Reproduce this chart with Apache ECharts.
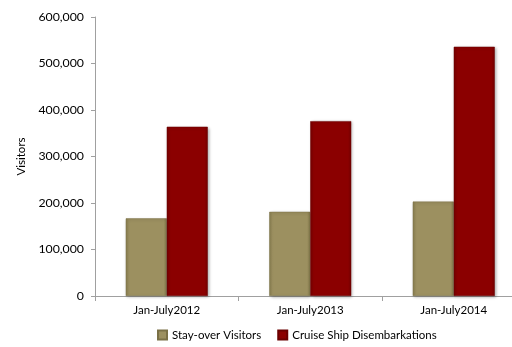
<!DOCTYPE html>
<html><head><meta charset="utf-8">
<script src="https://cdn.jsdelivr.net/npm/echarts@6/dist/echarts.min.js"></script>
<style>html,body{margin:0;padding:0;background:#fff}#c{width:512px;height:347px}</style>
</head><body><div id="c"></div>
<script>
var categories = ['Jan-July2012', 'Jan-July2013', 'Jan-July2014'];
var stayOver = [167000, 181000, 203000];
var cruise = [364000, 376000, 536000];
var yTicks = [0, 100000, 200000, 300000, 400000, 500000, 600000];

var chart = echarts.init(document.getElementById('c'));
var font = 'Lato, "Open Sans", sans-serif';
function fmt(v){ return v.toString().replace(/\B(?=(\d{3})+(?!\d))/g, ','); }
chart.setOption({
  animation: false,
  textStyle: { fontFamily: font },
  grid: { left: 95, width: 430.5, top: 17, bottom: 51, outerBoundsMode: 'none', containLabel: false },
  legend: {
    bottom: 1, left: 152, itemWidth: 9, itemHeight: 9, itemGap: 16,
    icon: 'rect',
    textStyle: { fontSize: 11.5, color: '#000', fontFamily: font },
    data: ['Stay-over Visitors', 'Cruise Ship Disembarkations']
  },
  xAxis: {
    type: 'category', data: categories,
    axisLine: { lineStyle: { color: '#a0a0a0' } },
    axisTick: { show: true, length: 5, lineStyle: { color: '#a0a0a0' } },
    axisLabel: { color: '#000', fontSize: 11.5, margin: 8, fontFamily: font }
  },
  yAxis: {
    type: 'value', min: 0, max: 600000, interval: 100000,
    name: 'Visitors', nameLocation: 'middle', nameGap: 68, nameRotate: 90,
    nameTextStyle: { fontSize: 11.5, color: '#000', fontFamily: font },
    axisLine: { show: true, lineStyle: { color: '#a0a0a0' } },
    axisTick: { show: true, length: 4, lineStyle: { color: '#a0a0a0' } },
    splitLine: { show: false },
    axisLabel: { color: '#000', fontSize: 12.3, margin: 11, fontFamily: font,
      formatter: function(v){ return yTicks.indexOf(v) >= 0 ? fmt(v) : ''; } }
  },
  series: [
    { name: 'Stay-over Visitors', type: 'bar', data: stayOver, barWidth: 41, barGap: '0%',
      itemStyle: { color: new echarts.graphic.LinearGradient(0,0,1,0,[
        {offset:0,color:'#8a7f50'},{offset:0.08,color:'#9c9060'},{offset:0.92,color:'#9c9060'},{offset:1,color:'#857a4c'}]),
        borderColor: '#7a7046', borderWidth: 0.5,
        shadowColor: 'rgba(0,0,0,0.3)', shadowBlur: 3, shadowOffsetX: 1, shadowOffsetY: 1 } },
    { name: 'Cruise Ship Disembarkations', type: 'bar', data: cruise, barWidth: 41,
      itemStyle: { color: new echarts.graphic.LinearGradient(0,0,1,0,[
        {offset:0,color:'#780000'},{offset:0.08,color:'#8b0000'},{offset:0.92,color:'#8b0000'},{offset:1,color:'#740000'}]),
        borderColor: '#6a0000', borderWidth: 0.5,
        shadowColor: 'rgba(0,0,0,0.3)', shadowBlur: 3, shadowOffsetX: 1, shadowOffsetY: 1 } }
  ]
});
</script></body></html>
